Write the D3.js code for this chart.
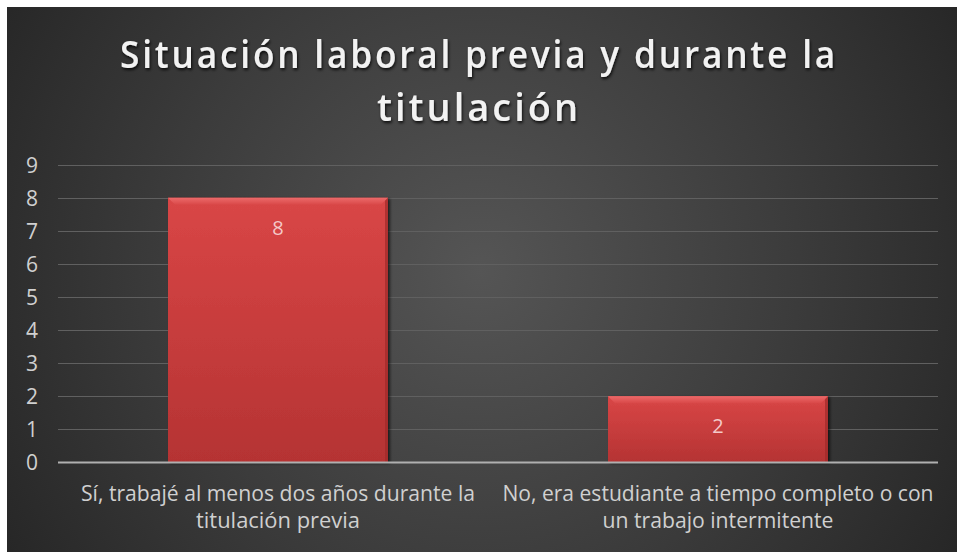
<!DOCTYPE html>
<html><head><meta charset="utf-8">
<script src="https://cdn.jsdelivr.net/npm/d3@7"></script>
<style>
html,body{margin:0;padding:0;background:#fff;}
svg{display:block;}
</style></head>
<body>
<script>
const categories = [
  ["Sí, trabajé al menos dos años durante la", "titulación previa"],
  ["No, era estudiante a tiempo completo o con", "un trabajo intermitente"]
];
const values = [8, 2];
const yTicks = [0,1,2,3,4,5,6,7,8,9];
const titleLines = ["Situación laboral previa y durante la", "titulación"];

const W = 957, H = 552;
const svg = d3.select("body").append("svg").attr("width", W).attr("height", H);
const defs = svg.append("defs");

const rg = defs.append("radialGradient").attr("id","bg")
  .attr("gradientUnits","userSpaceOnUse").attr("cx",480).attr("cy",270).attr("r",560);
rg.append("stop").attr("offset","0").attr("stop-color","#555555");
rg.append("stop").attr("offset","0.55").attr("stop-color","#3c3c3c");
rg.append("stop").attr("offset","1").attr("stop-color","#262626");

const bg2 = defs.append("linearGradient").attr("id","barg").attr("x1",0).attr("y1",0).attr("x2",0).attr("y2",1);
bg2.append("stop").attr("offset","0").attr("stop-color","#d94646");
bg2.append("stop").attr("offset","1").attr("stop-color","#b53333");

const bev = defs.append("linearGradient").attr("id","bev").attr("x1",0).attr("y1",0).attr("x2",0).attr("y2",1);
bev.append("stop").attr("offset","0").attr("stop-color","#ec6a6a");
bev.append("stop").attr("offset","1").attr("stop-color","#d94848");

const sh = defs.append("filter").attr("id","shadow").attr("x","-20%").attr("y","-20%").attr("width","140%").attr("height","140%");
sh.append("feDropShadow").attr("dx",2).attr("dy",1).attr("stdDeviation",1.5).attr("flood-color","#000").attr("flood-opacity",0.6);

const tsh = defs.append("filter").attr("id","tshadow").attr("x","-5%").attr("y","-20%").attr("width","110%").attr("height","160%");
tsh.append("feDropShadow").attr("dx",1).attr("dy",2).attr("stdDeviation",1.5).attr("flood-color","#000").attr("flood-opacity",0.8);

svg.append("rect").attr("x",7).attr("y",7).attr("width",W-7).attr("height",H-7).attr("fill","url(#bg)");

// Title
const titleY = [68, 121];
const titleW = [718, 204];
svg.selectAll(".title").data(titleLines).enter().append("text")
  .attr("x", 479).attr("y",(d,i)=>titleY[i])
  .attr("text-anchor","middle")
  .attr("font-family","'Open Sans', sans-serif").attr("font-weight",600)
  .attr("font-size",38).attr("letter-spacing",3).attr("fill","#f2f2f2")
  .attr("textLength",(d,i)=>titleW[i]).attr("lengthAdjust","spacingAndGlyphs")
  .attr("filter","url(#tshadow)")
  .text(d=>d);

const x = d3.scaleBand().domain(d3.range(categories.length)).range([58, 938]).paddingInner(0.5).paddingOuter(0.25);
const y = d3.scaleLinear().domain([0, 9]).range([462.3, 164.7]);

// gridlines
svg.append("g").selectAll("line").data(yTicks.filter(t=>t>0)).enter().append("line")
  .attr("x1",58).attr("x2",938).attr("y1",d=>Math.round(y(d))+0.5).attr("y2",d=>Math.round(y(d))+0.5)
  .attr("stroke","#606060").attr("stroke-width",1);

// y axis labels
const yAxis = d3.axisLeft(y).tickValues(yTicks).tickSize(0).tickPadding(0);
const ya = svg.append("g").attr("transform","translate(38,0)").call(yAxis)
  .attr("font-size",null).attr("font-family",null);
ya.select(".domain").remove();
ya.selectAll("text").attr("font-family","'Open Sans', sans-serif").attr("font-size",21).attr("fill","#d0d0d0").attr("dy","0.36em");

// bars
const bars = svg.append("g").selectAll("g").data(values).enter().append("g");
bars.append("rect")
  .attr("x",(d,i)=>x(i)).attr("y",d=>y(d)).attr("width",x.bandwidth()).attr("height",d=>y(0)-y(d))
  .attr("fill","url(#barg)").attr("filter","url(#shadow)");
const bv = 7;
bars.append("path")
  .attr("d",(d,i)=>{const x0=x(i),x1=x(i)+x.bandwidth(),y0=y(d);
    return `M${x0},${y0}L${x1},${y0}L${x1-bv},${y0+bv}L${x0+bv},${y0+bv}Z`;})
  .attr("fill","url(#bev)");
bars.append("path")
  .attr("d",(d,i)=>{const x1=x(i)+x.bandwidth(),y0=y(d),yb=y(0);
    return `M${x1},${y0}L${x1},${yb}L${x1-3},${yb}L${x1-3},${y0+3}Z`;})
  .attr("fill","#a02a2a").attr("opacity",0.7);
bars.append("text")
  .attr("x",(d,i)=>x(i)+x.bandwidth()/2).attr("y",d=>y(d)+37)
  .attr("text-anchor","middle").attr("font-family","'Open Sans', sans-serif").attr("font-size",20)
  .attr("fill","#f4c9c9").text(d=>d);

// baseline axis
svg.append("line").attr("x1",58).attr("x2",938).attr("y1",462.5).attr("y2",462.5)
  .attr("stroke","#b0b0b0").attr("stroke-width",2);

// category labels
const catW = [[394,164],[431,231]];
const cg = svg.append("g").selectAll("g").data(categories).enter().append("g");
cg.selectAll("text").data((d,i)=>d.map((t,j)=>({t,i,j}))).enter().append("text")
  .attr("x",d=>x(d.i)+x.bandwidth()/2).attr("y",d=>501+d.j*27)
  .attr("text-anchor","middle").attr("font-family","'Open Sans', sans-serif").attr("font-size",21)
  .attr("fill","#d0d0d0")
  .attr("textLength",d=>catW[d.i][d.j]).attr("lengthAdjust","spacingAndGlyphs")
  .text(d=>d.t);
</script>
</body></html>
